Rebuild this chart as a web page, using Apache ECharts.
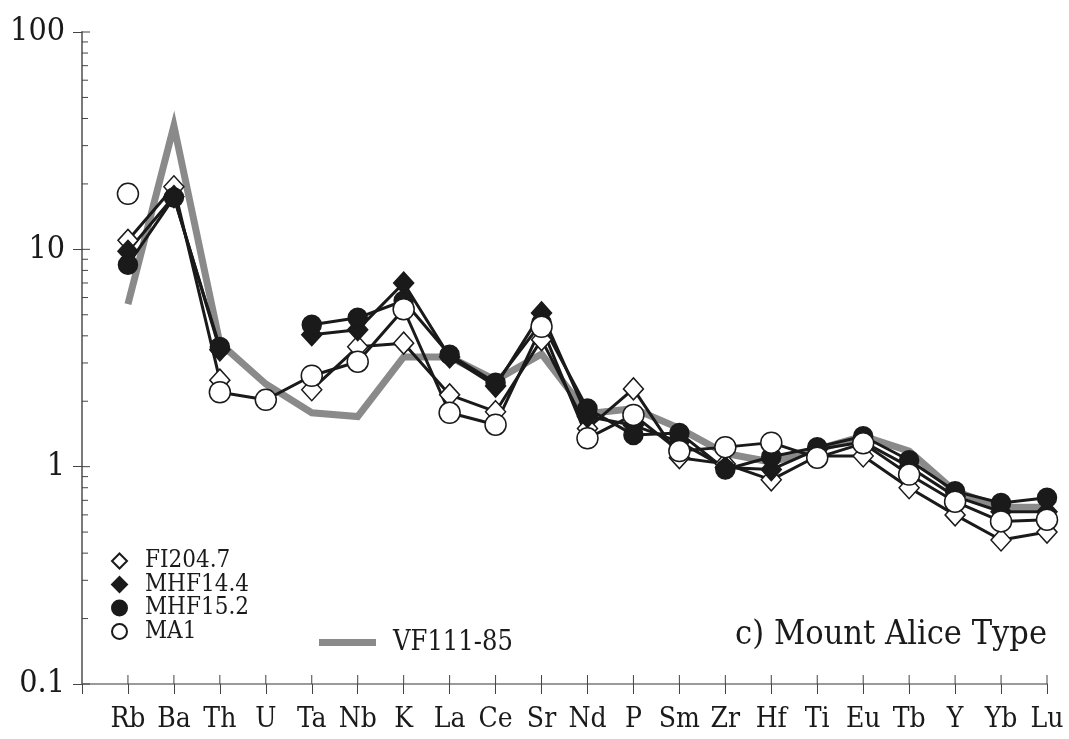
<!DOCTYPE html>
<html>
<head>
<meta charset="utf-8">
<script src="https://cdn.jsdelivr.net/npm/echarts@6/dist/echarts.min.js"></script>
<style>
  html, body { margin: 0; padding: 0; background: #fff; }
  #chart { width: 1069px; height: 739px; }
</style>
</head>
<body>
<div id="chart"></div>
<script>
// Trace elements, in plotting order
const elements = ['Rb', 'Ba', 'Th', 'U', 'Ta', 'Nb', 'K', 'La', 'Ce', 'Sr', 'Nd', 'P', 'Sm', 'Zr', 'Hf', 'Ti', 'Eu', 'Tb', 'Y', 'Yb', 'Lu'];

// Normalised abundances per sample (null = not analysed)
const fi2047   = [11.0, 19.4, 2.5, null, 2.26, 3.56, 3.7, 2.14, 1.79, 3.84, 1.50, 2.28, 1.10, 1.03, 0.87, 1.12, 1.12, 0.80, 0.60, 0.46, 0.50];
const mhf144   = [9.8, 17.5, 3.45, null, 4.05, 4.27, 7.0, 3.2, 2.35, 5.1, 1.70, 1.55, 1.30, 0.99, 0.97, 1.20, 1.30, 1.00, 0.73, 0.62, 0.62];
const mhf152   = [8.5, 17.3, 3.55, null, 4.5, 4.84, 5.8, 3.27, 2.43, 4.6, 1.85, 1.40, 1.43, 0.97, 1.11, 1.23, 1.38, 1.07, 0.77, 0.68, 0.72];
const ma1      = [18.0, null, 2.2, 2.03, 2.62, 3.04, 5.3, 1.77, 1.56, 4.4, 1.35, 1.73, 1.18, 1.23, 1.29, 1.10, 1.28, 0.92, 0.69, 0.56, 0.57];
const vf11185  = [5.6, 37, 3.7, 2.4, 1.77, 1.70, 3.2, 3.2, 2.5, 3.3, 1.75, 1.85, 1.50, 1.15, 1.05, 1.20, 1.38, 1.18, 0.77, 0.65, 0.65];

// Log axis decades
const yDecades = [0.1, 1, 10, 100];

const FONT = '"DejaVu Serif Condensed", "DejaVu Serif", "Liberation Serif", serif';
const INK = '#1a1a1a';
const AXIS = '#7a7a7a';

const toPoints = arr => arr.map((v, i) => [i + 1, v]);

// Inside tick marks (axis ticks on the plot side): [x, y, length, direction]
const innerTicks = [];
for (let d = 0; d < yDecades.length - 1; d++) {
  for (let k = 1; k <= 9; k++) {
    innerTicks.push([0, +(yDecades[d] * k).toPrecision(3), k === 1 ? 8 : 6, 0]);
  }
}
innerTicks.push([0, yDecades[yDecades.length - 1], 8, 0]);
elements.forEach((_, i) => innerTicks.push([i + 1, yDecades[0], 9, 1]));

const markerSeries = (name, data, symbol, size, fill) => ({
  name, type: 'line', data: toPoints(data),
  symbol, symbolSize: size, showSymbol: true,
  connectNulls: false,
  lineStyle: { color: INK, width: 3 },
  itemStyle: { color: fill, borderColor: INK, borderWidth: 1.5 },
  emphasis: { disabled: true },
  animation: false,
  z: 3
});

const chart = echarts.init(document.getElementById('chart'), null, { renderer: 'canvas' });
chart.setOption({
  backgroundColor: '#fff',
  animation: false,
  grid: { left: 82, right: 22, top: 32, bottom: 55 },
  title: {
    text: 'c) Mount Alice Type',
    right: 17, top: 613,
    textStyle: { fontFamily: FONT, fontSize: 34, fontWeight: 'normal', color: INK }
  },
  legend: [
    {
      orient: 'vertical', left: 106, top: 544,
      itemWidth: 15, itemHeight: 15, itemGap: -0.5,
      textStyle: { fontFamily: FONT, fontSize: 24, lineHeight: 22.7, color: INK, padding: [0, 0, 0, 13] },
      data: [
        { name: 'FI204.7', icon: 'diamond' },
        { name: 'MHF14.4', icon: 'diamond' },
        { name: 'MHF15.2', icon: 'circle' },
        { name: 'MA1', icon: 'circle' }
      ],
      selectedMode: false
    },
    {
      left: 314, top: 624,
      itemWidth: 57, itemHeight: 7,
      textStyle: { fontFamily: FONT, fontSize: 27, color: INK, padding: [0, 0, 0, 12] },
      data: [{ name: 'VF111-85', icon: 'rect' }],
      selectedMode: false
    }
  ],
  xAxis: {
    type: 'value', min: 0, max: elements.length, interval: 1,
    axisLine: { show: true, lineStyle: { color: AXIS, width: 1.5 } },
    axisTick: { show: true, length: 10, lineStyle: { color: '#444', width: 1 } },
    splitLine: { show: false },
    axisLabel: {
      margin: 22,
      fontFamily: FONT, fontSize: 28, color: INK,
      formatter: v => elements[v - 1] || ''
    }
  },
  yAxis: {
    type: 'log', logBase: 10, min: yDecades[0], max: yDecades[yDecades.length - 1],
    axisLine: { show: true, lineStyle: { color: AXIS, width: 2 } },
    axisTick: { show: true, length: 9, lineStyle: { color: '#444', width: 1 } },
    splitLine: { show: false },
    minorTick: { show: false },
    axisLabel: {
      margin: 17,
      fontFamily: FONT, fontSize: 32, color: INK,
      formatter: v => String(v)
    }
  },
  series: [
    {
      type: 'custom', name: 'ticks', silent: true,
      coordinateSystem: 'cartesian2d',
      encode: { x: 0, y: 1 },
      data: innerTicks,
      renderItem: (params, api) => {
        const p = api.coord([api.value(0), api.value(1)]);
        const len = api.value(2);
        const vertical = api.value(3) === 1;
        return {
          type: 'line',
          shape: vertical
            ? { x1: p[0], y1: p[1], x2: p[0], y2: p[1] - len }
            : { x1: p[0], y1: p[1], x2: p[0] + len, y2: p[1] },
          style: { stroke: '#444', lineWidth: 1 }
        };
      },
      z: 1
    },
    {
      name: 'VF111-85', type: 'line', data: toPoints(vf11185),
      showSymbol: false, symbol: 'none',
      lineStyle: { color: '#8a8a8a', width: 7, join: 'miter' },
      itemStyle: { color: '#8a8a8a' },
      emphasis: { disabled: true },
      z: 2
    },
    markerSeries('FI204.7', fi2047, 'diamond', [20, 22], '#ffffff'),
    markerSeries('MHF14.4', mhf144, 'diamond', [20, 22], INK),
    markerSeries('MHF15.2', mhf152, 'circle', 19, INK),
    markerSeries('MA1', ma1, 'circle', 21, '#ffffff')
  ]
});
</script>
</body>
</html>
